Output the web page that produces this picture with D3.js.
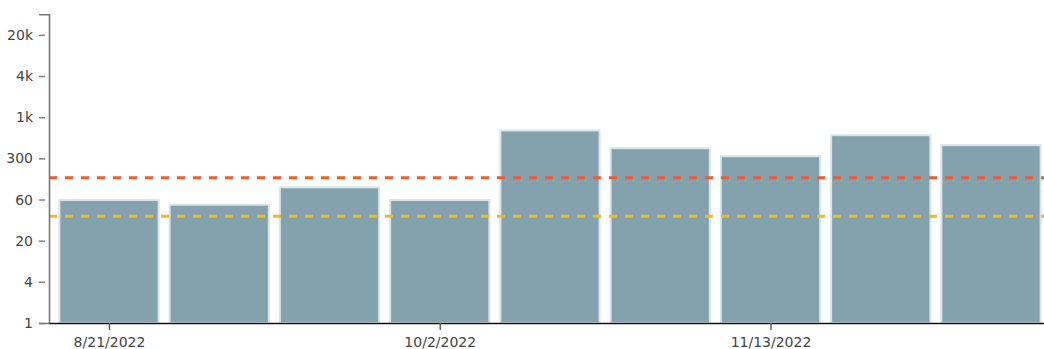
<!DOCTYPE html>
<html>
<head>
<meta charset="utf-8">
<script src="https://cdn.jsdelivr.net/npm/d3@7"></script>
<style>
  html, body { margin: 0; padding: 0; background: #fff; }
  svg { display: block; }
  .tick text { font-family: "DejaVu Sans", sans-serif; font-size: 14px; fill: #444; }
</style>
</head>
<body>
<svg id="chart" width="1044" height="349"></svg>
<script>
// Biweekly periods (period start dates) and their counts
const periods = ["2022-08-21", "2022-09-04", "2022-09-18", "2022-10-02", "2022-10-16",
                 "2022-10-30", "2022-11-13", "2022-11-27", "2022-12-11"];
const counts = [62, 53, 95, 62, 640, 353, 270, 547, 391];

// Threshold reference lines
const upperThreshold = 131;
const lowerThreshold = 36;

// Date ticks on the x axis
const xTickDates = ["2022-08-21", "2022-10-02", "2022-11-13"];

// Y ticks sit every 0.6 decades; labels are rounded to one significant figure
const yTickExponents = [0, 0.6, 1.2, 1.8, 2.4, 3.0, 3.6, 4.2];
const yTickLabels = ["1", "4", "20", "60", "300", "1k", "4k", "20k"];

const svg = d3.select("#chart");
const parse = d3.utcParse("%Y-%m-%d");
const dates = periods.map(parse);
const DAY = 864e5;
const padDays = 7.62;

const plotLeft = 49, plotRight = 1051, plotTop = 14.3, plotBottom = 323;

const x = d3.scaleUtc()
  .domain([new Date(dates[0] - padDays * DAY), new Date(+dates[dates.length - 1] + padDays * DAY)])
  .range([plotLeft, plotRight]);

const y = d3.scaleLog()
  .domain([1, Math.pow(10, 4.5)])
  .range([plotBottom, plotTop]);

const barDays = 12.6;
const barW = x(new Date(+dates[0] + barDays * DAY)) - x(dates[0]);

// Bars
svg.append("g")
  .selectAll("rect")
  .data(counts)
  .join("rect")
  .attr("x", (d, i) => x(dates[i]) - barW / 2)
  .attr("y", d => y(d))
  .attr("width", barW)
  .attr("height", d => y(1) - y(d))
  .attr("fill", "#84a2ad")
  .attr("stroke", "#d9e4e8")
  .attr("stroke-width", 2);

// Threshold lines
const thresholds = [
  { value: upperThreshold, color: "#f15a29" },
  { value: lowerThreshold, color: "#f8b524" }
];
svg.append("g")
  .selectAll("line")
  .data(thresholds)
  .join("line")
  .attr("x1", plotLeft)
  .attr("x2", 1044)
  .attr("y1", d => y(d.value))
  .attr("y2", d => y(d.value))
  .attr("stroke", d => d.color)
  .attr("stroke-width", 3)
  .attr("stroke-dasharray", "8,8");

// Y axis
const yAxis = d3.axisLeft(y)
  .tickValues(yTickExponents.map(e => Math.pow(10, e)))
  .tickFormat((d, i) => yTickLabels[i])
  .tickSize(10)
  .tickPadding(6);
const gy = svg.append("g")
  .attr("transform", `translate(${plotLeft},0)`)
  .call(yAxis);
gy.select(".domain").attr("stroke", "#777").attr("stroke-width", 1.6);
gy.selectAll(".tick line").attr("stroke", "#777").attr("stroke-width", 1.4)
  .attr("x1", -4);

// X axis
const xAxis = d3.axisBottom(x)
  .tickValues(xTickDates.map(parse))
  .tickFormat(d3.utcFormat("%-m/%-d/%Y"))
  .tickSize(7)
  .tickSizeOuter(0)
  .tickPadding(7.5);
const gx = svg.append("g")
  .attr("transform", `translate(0,${plotBottom})`)
  .call(xAxis);
gx.select(".domain").attr("stroke", "#111").attr("stroke-width", 1.4);
gx.selectAll(".tick line").attr("stroke", "#555").attr("stroke-width", 1.4);
</script>
</body>
</html>
